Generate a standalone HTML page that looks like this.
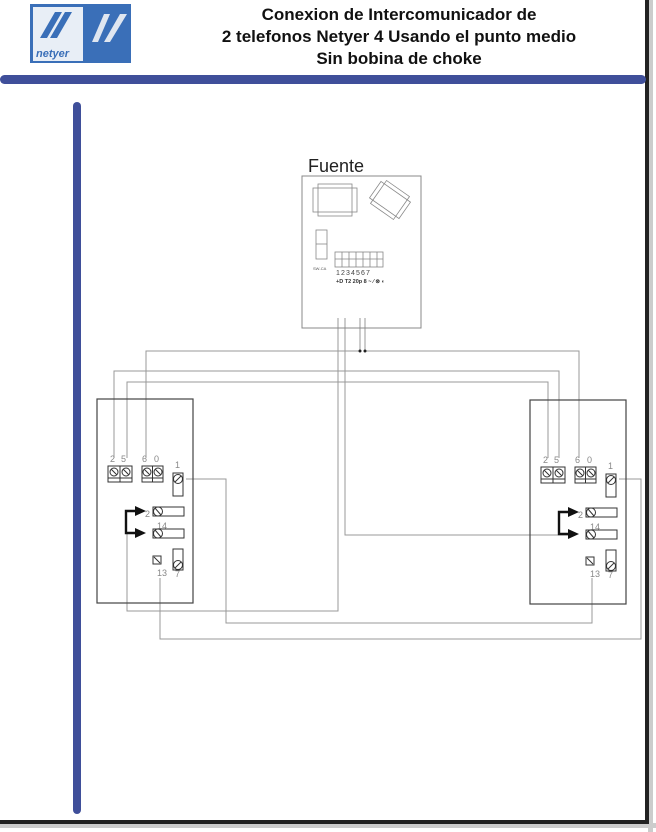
<!DOCTYPE html>
<html><head><meta charset="utf-8"><style>
html,body{margin:0;padding:0;background:#fff;}
svg{display:block;}
</style></head><body>
<svg width="656" height="832" viewBox="0 0 656 832" xmlns="http://www.w3.org/2000/svg" font-family="Liberation Sans, sans-serif">
<rect x="648" y="0" width="5" height="832" fill="#ccc"/>
<rect x="0" y="823" width="656" height="5" fill="#ccc"/>
<rect x="645" y="0" width="4" height="824" fill="#222"/>
<rect x="0" y="820" width="649" height="4" fill="#222"/>
<rect x="30" y="4" width="101" height="59" fill="#3a6fb8"/>
<rect x="33" y="7" width="50" height="54" fill="#e8eef6"/>
<path d="M40 38 L55 12 L62 12 L47 38Z M50 38 L65 12 L72 12 L57 38Z" fill="#3a6fb8"/>
<path d="M92 42 L104 14 L110 14 L98 42Z M104 42 L120 14 L127 14 L110 42Z" fill="#dfe6f0"/>
<text x="36" y="57" font-size="11" font-weight="bold" fill="#3a6fb8" font-style="italic">netyer</text>
<g font-weight="bold" font-size="17" fill="#111" text-anchor="middle">
<text x="399" y="20">Conexion de Intercomunicador de</text>
<text x="399" y="42">2 telefonos Netyer  4 Usando el punto medio</text>
<text x="399" y="64">Sin bobina de choke</text>
</g>
<rect x="0" y="75" width="646" height="9" rx="4.5" fill="#3f4f9a"/>
<rect x="73" y="102" width="8" height="712" rx="4" fill="#3f4f9a"/>

<g fill="none" stroke="#999" stroke-width="1">
<polyline points="360,318 360,351 146,351 146,458"/>
<polyline points="365,318 365,351 579,351 579,458"/>
<polyline points="114,458 114,371 559,371 559,458"/>
<polyline points="127,458 127,382 548,382 548,458"/>
<polyline points="338,318 338,611 127,611 127,533"/>
<polyline points="345,318 345,535 568,535"/>
<polyline points="186,479 226,479 226,623 592,623 592,578"/>
<polyline points="160,578 160,639 641,639 641,479 619,479"/>
</g>
<circle cx="360" cy="351" r="1.5" fill="#222"/>
<circle cx="365" cy="351" r="1.5" fill="#222"/>

<text x="308" y="172" font-size="18" fill="#222">Fuente</text>
<rect x="302" y="176" width="119" height="152" fill="none" stroke="#888"/>
<g fill="none" stroke="#888" stroke-width="0.8">
<rect x="313" y="188" width="44" height="24"/>
<rect x="318" y="184" width="34" height="32"/>
<g transform="rotate(35 390 200)"><rect x="372" y="190" width="36" height="20"/><rect x="376" y="186" width="28" height="28"/></g>
<rect x="316" y="230" width="11" height="29"/><line x1="316" y1="244" x2="327" y2="244"/>
<rect x="335" y="252" width="48" height="15"/>
<line x1="342" y1="252" x2="342" y2="267"/><line x1="349" y1="252" x2="349" y2="267"/><line x1="356" y1="252" x2="356" y2="267"/><line x1="363" y1="252" x2="363" y2="267"/><line x1="370" y1="252" x2="370" y2="267"/><line x1="377" y1="252" x2="377" y2="267"/>
<line x1="335" y1="259" x2="383" y2="259"/>
</g>
<text x="313" y="270" font-size="4" fill="#555">SW-CA</text>
<text x="336" y="275" font-size="7" fill="#444" letter-spacing="1.1">1234567</text>
<text x="336" y="283" font-size="5.5" fill="#333" font-weight="bold">+D T2 20p 8 ~ ⁄ ⊗ ◐</text>

<defs>
<g id="ph">
<rect x="0" y="0" width="96" height="204" fill="none" stroke="#444" stroke-width="1.2"/>
<g font-size="9" fill="#888">
<text x="13" y="63">2</text><text x="24" y="63">5</text><text x="45" y="63">6</text><text x="57" y="63">0</text>
<text x="78" y="69">1</text><text x="48" y="118">2</text><text x="60" y="130">14</text>
<text x="60" y="177">13</text><text x="78" y="178">7</text>
</g>
<g fill="none" stroke="#333" stroke-width="1">
<rect x="11" y="67" width="24" height="16"/><line x1="23" y1="67" x2="23" y2="83"/><line x1="11" y1="79" x2="35" y2="79"/>
<circle cx="17" cy="73" r="4"/><circle cx="29" cy="73" r="4"/>
<line x1="14" y1="70" x2="20" y2="76"/><line x1="26" y1="70" x2="32" y2="76"/>
<rect x="45" y="67" width="21" height="16"/><line x1="55.5" y1="67" x2="55.5" y2="83"/><line x1="45" y1="79" x2="66" y2="79"/>
<circle cx="50" cy="73" r="4"/><circle cx="61" cy="73" r="4"/>
<line x1="47" y1="70" x2="53" y2="76"/><line x1="58" y1="70" x2="64" y2="76"/>
<rect x="76" y="74" width="10" height="23"/><circle cx="81" cy="80" r="4.5"/><line x1="78" y1="83" x2="84" y2="77"/>
<rect x="56" y="108" width="31" height="9"/><circle cx="61" cy="112.5" r="4.5"/><line x1="58" y1="109" x2="64" y2="116"/>
<rect x="56" y="130" width="31" height="9"/><circle cx="61" cy="134.5" r="4.5"/><line x1="58" y1="131" x2="64" y2="138"/>
<rect x="56" y="157" width="8" height="8"/><line x1="57" y1="158" x2="63" y2="164"/>
<rect x="76" y="150" width="10" height="21"/><circle cx="81" cy="166" r="4.5"/><line x1="78" y1="169" x2="84" y2="163"/>
</g>
<polyline points="44,112 29,112 29,134 44,134" fill="none" stroke="#111" stroke-width="2.4"/>
<path d="M38 107 L49 112 L38 117Z M38 129 L49 134 L38 139Z" fill="#111"/>
</g>
</defs>
<use href="#ph" x="97" y="399"/>
<use href="#ph" x="530" y="400"/>
</svg>
</body></html>
